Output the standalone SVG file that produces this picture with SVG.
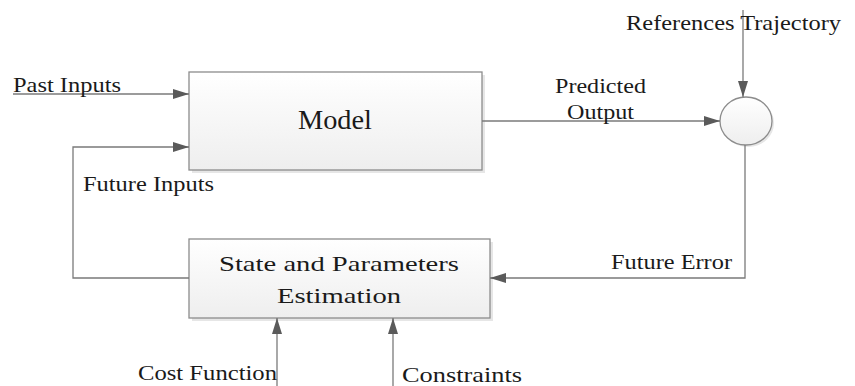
<svg xmlns="http://www.w3.org/2000/svg" width="855" height="386" viewBox="0 0 855 386">
<defs>
<linearGradient id="boxfill" x1="0" y1="0" x2="0" y2="1">
<stop offset="0" stop-color="#ffffff"/>
<stop offset="1" stop-color="#eeeeee"/>
</linearGradient>
<marker id="arr" markerUnits="userSpaceOnUse" markerWidth="16" markerHeight="10" refX="16" refY="5" orient="auto">
<path d="M0,0 L16,5 L0,10 z" fill="#5a5a5a"/>
</marker>
</defs>
<style>
.box{fill:url(#boxfill);stroke:#8c8c8c;stroke-width:1.3}
.shadow{fill:#e6e6e6}
.conn{fill:none;stroke:#7a7a7a;stroke-width:1.3}
.t{font-family:"Liberation Serif","Times New Roman",serif;fill:#1a1a1a}
.lbl{font-size:22px}
.big{font-size:27px}
</style>
<rect width="855" height="386" fill="#ffffff"/>
<g id="model">
<rect class="shadow" x="192" y="75" width="293" height="98"/>
<rect class="box" x="189" y="72" width="293" height="98"/>
<text class="t big" x="298" y="129" textLength="74" lengthAdjust="spacingAndGlyphs">Model</text>
</g>
<g id="estimation">
<rect class="shadow" x="192" y="242" width="301" height="79"/>
<rect class="box" x="189" y="239" width="301" height="79"/>
<text class="t lbl" x="219" y="271" textLength="240" lengthAdjust="spacingAndGlyphs">State and Parameters</text>
<text class="t lbl" x="277" y="303" textLength="124" lengthAdjust="spacingAndGlyphs">Estimation</text>
</g>
<g id="summing">
<ellipse cx="748" cy="123" rx="26" ry="24" fill="#e6e6e6"/>
<ellipse cx="746" cy="121" rx="26" ry="24" class="box"/>
</g>
<g id="connectors">
<path class="conn" d="M13,94 H189" marker-end="url(#arr)"/>
<path class="conn" d="M189,278 H73 V147 H189" marker-end="url(#arr)"/>
<path class="conn" d="M482,121 H720" marker-end="url(#arr)"/>
<path class="conn" d="M743,10 V97" marker-end="url(#arr)"/>
<path class="conn" d="M745,145 V278 H490" marker-end="url(#arr)"/>
<path class="conn" d="M277,386 V318" marker-end="url(#arr)"/>
<path class="conn" d="M393,386 V318" marker-end="url(#arr)"/>
</g>
<g id="labels">
<text class="t lbl" x="13" y="92" textLength="108" lengthAdjust="spacingAndGlyphs">Past Inputs</text>
<text class="t lbl" x="83" y="191" textLength="131" lengthAdjust="spacingAndGlyphs">Future Inputs</text>
<text class="t lbl" x="555" y="93" textLength="91" lengthAdjust="spacingAndGlyphs">Predicted</text>
<text class="t lbl" x="567" y="119" textLength="67" lengthAdjust="spacingAndGlyphs">Output</text>
<text class="t lbl" x="626" y="30" textLength="215" lengthAdjust="spacingAndGlyphs">References Trajectory</text>
<text class="t lbl" x="611" y="269" textLength="121" lengthAdjust="spacingAndGlyphs">Future Error</text>
<text class="t lbl" x="138" y="380" textLength="139" lengthAdjust="spacingAndGlyphs">Cost Function</text>
<text class="t lbl" x="402" y="382" textLength="120" lengthAdjust="spacingAndGlyphs">Constraints</text>
</g>
</svg>
